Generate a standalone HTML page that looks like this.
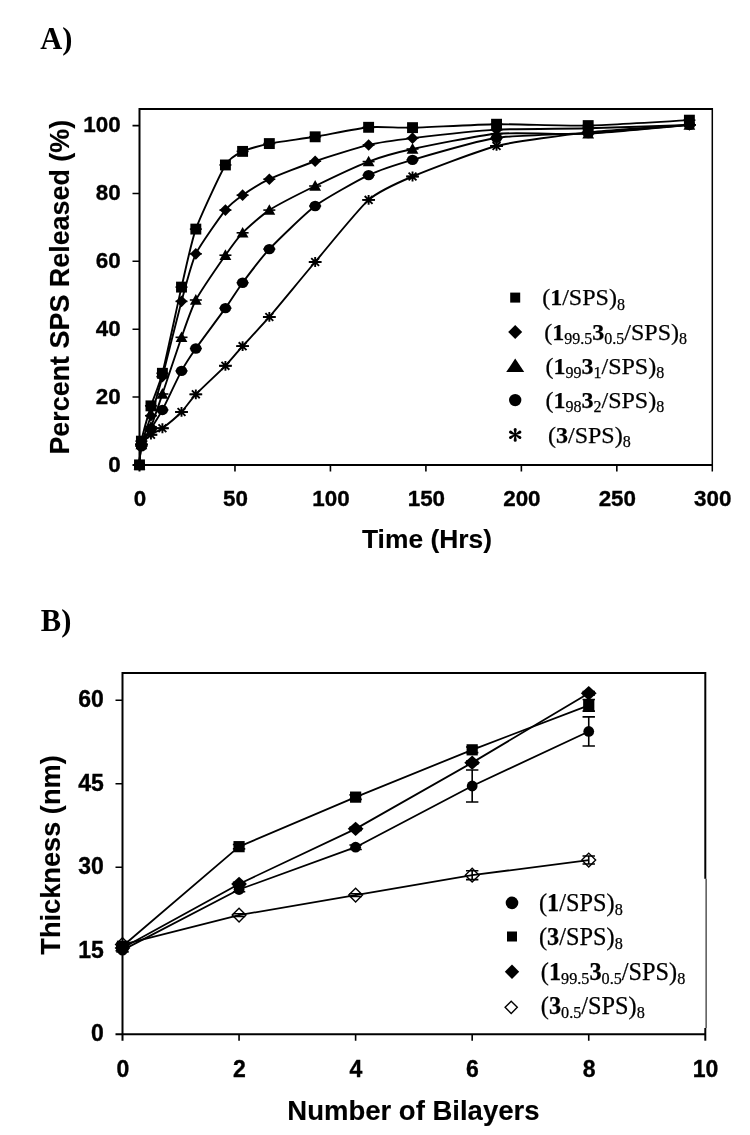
<!DOCTYPE html>
<html><head><meta charset="utf-8"><title>Figure</title>
<style>html,body{margin:0;padding:0;background:#fff}body{width:750px;height:1135px;overflow:hidden;font-family:"Liberation Sans",sans-serif}svg text{fill:#000}</style>
</head><body>
<svg width="750" height="1135" viewBox="0 0 750 1135" style="display:block;will-change:transform">
<rect width="750" height="1135" fill="#fff"/>
<text x="40.2" y="48.6" font-family="Liberation Serif, serif" font-weight="bold" font-size="30.5">A)</text>
<text x="40.8" y="630.5" font-family="Liberation Serif, serif" font-weight="bold" font-size="30.5">B)</text>
<path d="M139.5 471.4V109.0H712.3" fill="none" stroke="#000" stroke-width="2"/>
<path d="M712.3 108.0V471.4" fill="none" stroke="#000" stroke-width="1.5"/>
<path d="M132.5 464.9H712.3" fill="none" stroke="#000" stroke-width="2"/>
<path d="M132.5 397.04H139.5M132.5 329.18H139.5M132.5 261.32H139.5M132.5 193.46H139.5M132.5 125.60H139.5M234.97 464.9V471.4M330.43 464.9V471.4M425.90 464.9V471.4M521.37 464.9V471.4M616.83 464.9V471.4" fill="none" stroke="#000" stroke-width="1.6"/>
<text x="120.7" y="471.50" text-anchor="end" font-family="Liberation Sans, sans-serif" font-weight="bold" stroke="#000" stroke-width="0.35" font-size="22.4">0</text>
<text x="120.7" y="403.64" text-anchor="end" font-family="Liberation Sans, sans-serif" font-weight="bold" stroke="#000" stroke-width="0.35" font-size="22.4">20</text>
<text x="120.7" y="335.78" text-anchor="end" font-family="Liberation Sans, sans-serif" font-weight="bold" stroke="#000" stroke-width="0.35" font-size="22.4">40</text>
<text x="120.7" y="267.92" text-anchor="end" font-family="Liberation Sans, sans-serif" font-weight="bold" stroke="#000" stroke-width="0.35" font-size="22.4">60</text>
<text x="120.7" y="200.06" text-anchor="end" font-family="Liberation Sans, sans-serif" font-weight="bold" stroke="#000" stroke-width="0.35" font-size="22.4">80</text>
<text x="120.7" y="132.20" text-anchor="end" font-family="Liberation Sans, sans-serif" font-weight="bold" stroke="#000" stroke-width="0.35" font-size="22.4">100</text>
<text x="140.00" y="506.0" text-anchor="middle" font-family="Liberation Sans, sans-serif" font-weight="bold" stroke="#000" stroke-width="0.35" font-size="22.4">0</text>
<text x="235.47" y="506.0" text-anchor="middle" font-family="Liberation Sans, sans-serif" font-weight="bold" stroke="#000" stroke-width="0.35" font-size="22.4">50</text>
<text x="330.93" y="506.0" text-anchor="middle" font-family="Liberation Sans, sans-serif" font-weight="bold" stroke="#000" stroke-width="0.35" font-size="22.4">100</text>
<text x="426.40" y="506.0" text-anchor="middle" font-family="Liberation Sans, sans-serif" font-weight="bold" stroke="#000" stroke-width="0.35" font-size="22.4">150</text>
<text x="521.87" y="506.0" text-anchor="middle" font-family="Liberation Sans, sans-serif" font-weight="bold" stroke="#000" stroke-width="0.35" font-size="22.4">200</text>
<text x="617.33" y="506.0" text-anchor="middle" font-family="Liberation Sans, sans-serif" font-weight="bold" stroke="#000" stroke-width="0.35" font-size="22.4">250</text>
<text x="712.80" y="506.0" text-anchor="middle" font-family="Liberation Sans, sans-serif" font-weight="bold" stroke="#000" stroke-width="0.35" font-size="22.4">300</text>
<text transform="translate(69.0 454.6) rotate(-90)" font-family="Liberation Sans, sans-serif" font-weight="bold" stroke="#000" stroke-width="0.12" font-size="26.9">Percent SPS Released (%)</text>
<text x="427.0" y="547.8" text-anchor="middle" font-family="Liberation Sans, sans-serif" font-weight="bold" stroke="#000" stroke-width="0.12" font-size="26.4">Time (Hrs)</text>
<path d="M139.50 464.90C139.50 464.90 140.26 447.56 141.41 444.54C142.55 441.52 148.86 436.33 150.96 434.70C153.06 433.07 159.36 430.53 162.41 428.26C165.47 425.98 178.16 415.36 181.51 411.97C184.85 408.58 191.43 398.94 195.83 394.33C200.22 389.71 220.74 370.64 225.42 365.82C230.10 361.01 238.21 351.03 242.60 346.14C247.00 341.26 262.08 325.38 269.33 316.97C276.59 308.55 305.23 273.70 315.16 262.00C325.09 250.29 358.88 208.46 368.62 199.91C378.36 191.36 399.74 181.89 412.53 176.50C425.33 171.10 478.98 150.37 496.55 145.96C514.11 141.55 568.91 134.49 588.19 132.39C607.48 130.28 689.39 124.92 689.39 124.92" fill="none" stroke="#000" stroke-width="1.9" stroke-linejoin="round"/>
<path d="M133.50 464.90H145.50" stroke="#000" stroke-width="1.6" fill="none"/>
<path d="M139.50 460.00V469.80M133.10 464.90H145.90M135.58 460.98L143.42 468.82M135.58 468.82L143.42 460.98" stroke="#000" stroke-width="1.9" fill="none"/>
<path d="M135.41 444.54H147.41" stroke="#000" stroke-width="1.6" fill="none"/>
<path d="M141.41 439.64V449.44M135.01 444.54H147.81M137.49 440.62L145.33 448.46M137.49 448.46L145.33 440.62" stroke="#000" stroke-width="1.9" fill="none"/>
<path d="M144.96 434.70H156.96" stroke="#000" stroke-width="1.6" fill="none"/>
<path d="M150.96 429.80V439.60M144.56 434.70H157.36M147.04 430.78L154.88 438.62M147.04 438.62L154.88 430.78" stroke="#000" stroke-width="1.9" fill="none"/>
<path d="M156.41 428.26H168.41" stroke="#000" stroke-width="1.6" fill="none"/>
<path d="M162.41 423.36V433.16M156.01 428.26H168.81M158.49 424.34L166.33 432.18M158.49 432.18L166.33 424.34" stroke="#000" stroke-width="1.9" fill="none"/>
<path d="M175.51 411.97H187.51" stroke="#000" stroke-width="1.6" fill="none"/>
<path d="M181.51 407.07V416.87M175.11 411.97H187.91M177.59 408.05L185.43 415.89M177.59 415.89L185.43 408.05" stroke="#000" stroke-width="1.9" fill="none"/>
<path d="M189.83 394.33H201.83" stroke="#000" stroke-width="1.6" fill="none"/>
<path d="M195.83 389.43V399.23M189.43 394.33H202.23M191.91 390.41L199.75 398.25M191.91 398.25L199.75 390.41" stroke="#000" stroke-width="1.9" fill="none"/>
<path d="M219.42 365.82H231.42" stroke="#000" stroke-width="1.6" fill="none"/>
<path d="M225.42 360.92V370.72M219.02 365.82H231.82M221.50 361.90L229.34 369.74M221.50 369.74L229.34 361.90" stroke="#000" stroke-width="1.9" fill="none"/>
<path d="M236.60 346.14H248.60" stroke="#000" stroke-width="1.6" fill="none"/>
<path d="M242.60 341.25V351.04M236.20 346.14H249.00M238.68 342.22L246.52 350.06M238.68 350.06L246.52 342.22" stroke="#000" stroke-width="1.9" fill="none"/>
<path d="M263.33 316.97H275.33" stroke="#000" stroke-width="1.6" fill="none"/>
<path d="M269.33 312.07V321.87M262.93 316.97H275.73M265.41 313.05L273.25 320.89M265.41 320.89L273.25 313.05" stroke="#000" stroke-width="1.9" fill="none"/>
<path d="M309.16 262.00H321.16" stroke="#000" stroke-width="1.6" fill="none"/>
<path d="M315.16 257.10V266.90M308.76 262.00H321.56M311.24 258.08L319.08 265.92M311.24 265.92L319.08 258.08" stroke="#000" stroke-width="1.9" fill="none"/>
<path d="M362.62 199.91H374.62" stroke="#000" stroke-width="1.6" fill="none"/>
<path d="M368.62 195.01V204.81M362.22 199.91H375.02M364.70 195.99L372.54 203.83M364.70 203.83L372.54 195.99" stroke="#000" stroke-width="1.9" fill="none"/>
<path d="M406.53 176.50H418.53" stroke="#000" stroke-width="1.6" fill="none"/>
<path d="M412.53 171.59V181.40M406.13 176.50H418.93M408.61 172.58L416.45 180.41M408.61 180.41L416.45 172.58" stroke="#000" stroke-width="1.9" fill="none"/>
<path d="M490.55 145.96H502.55" stroke="#000" stroke-width="1.6" fill="none"/>
<path d="M496.55 141.06V150.86M490.15 145.96H502.95M492.63 142.04L500.47 149.88M492.63 149.88L500.47 142.04" stroke="#000" stroke-width="1.9" fill="none"/>
<path d="M582.19 132.39H594.19" stroke="#000" stroke-width="1.6" fill="none"/>
<path d="M588.19 127.49V137.29M581.79 132.39H594.59M584.27 128.47L592.11 136.31M584.27 136.31L592.11 128.47" stroke="#000" stroke-width="1.9" fill="none"/>
<path d="M683.39 124.92H695.39" stroke="#000" stroke-width="1.6" fill="none"/>
<path d="M689.39 120.02V129.82M682.99 124.92H695.79M685.47 121.00L693.31 128.84M685.47 128.84L693.31 121.00" stroke="#000" stroke-width="1.9" fill="none"/>
<path d="M139.50 464.90C139.50 464.90 140.26 449.84 141.41 446.24C142.55 442.64 148.86 432.56 150.96 428.93C153.06 425.30 159.36 415.74 162.41 409.93C165.47 404.13 178.16 377.06 181.51 370.91C184.85 364.77 191.43 354.80 195.83 348.52C200.22 342.24 220.74 314.73 225.42 308.14C230.10 301.56 238.21 288.60 242.60 282.70C247.00 276.79 262.08 256.77 269.33 249.11C276.59 241.44 305.23 213.41 315.16 206.01C325.09 198.62 358.88 179.75 368.62 175.14C378.36 170.52 399.74 163.60 412.53 159.87C425.33 156.14 478.98 140.50 496.55 137.81C514.11 135.13 568.91 134.35 588.19 133.06C607.48 131.78 689.39 124.92 689.39 124.92" fill="none" stroke="#000" stroke-width="1.9" stroke-linejoin="round"/>
<path d="M133.50 464.90H145.50" stroke="#000" stroke-width="1.6" fill="none"/>
<ellipse cx="139.50" cy="464.90" rx="5.7" ry="5.2" fill="#000"/>
<path d="M135.41 446.24H147.41" stroke="#000" stroke-width="1.6" fill="none"/>
<ellipse cx="141.41" cy="446.24" rx="5.7" ry="5.2" fill="#000"/>
<path d="M144.96 428.93H156.96" stroke="#000" stroke-width="1.6" fill="none"/>
<ellipse cx="150.96" cy="428.93" rx="5.7" ry="5.2" fill="#000"/>
<path d="M156.41 409.93H168.41" stroke="#000" stroke-width="1.6" fill="none"/>
<ellipse cx="162.41" cy="409.93" rx="5.7" ry="5.2" fill="#000"/>
<path d="M175.51 370.91H187.51" stroke="#000" stroke-width="1.6" fill="none"/>
<ellipse cx="181.51" cy="370.91" rx="5.7" ry="5.2" fill="#000"/>
<path d="M189.83 348.52H201.83" stroke="#000" stroke-width="1.6" fill="none"/>
<ellipse cx="195.83" cy="348.52" rx="5.7" ry="5.2" fill="#000"/>
<path d="M219.42 308.14H231.42" stroke="#000" stroke-width="1.6" fill="none"/>
<ellipse cx="225.42" cy="308.14" rx="5.7" ry="5.2" fill="#000"/>
<path d="M236.60 282.70H248.60" stroke="#000" stroke-width="1.6" fill="none"/>
<ellipse cx="242.60" cy="282.70" rx="5.7" ry="5.2" fill="#000"/>
<path d="M263.33 249.11H275.33" stroke="#000" stroke-width="1.6" fill="none"/>
<ellipse cx="269.33" cy="249.11" rx="5.7" ry="5.2" fill="#000"/>
<path d="M309.16 206.01H321.16" stroke="#000" stroke-width="1.6" fill="none"/>
<ellipse cx="315.16" cy="206.01" rx="5.7" ry="5.2" fill="#000"/>
<path d="M362.62 175.14H374.62" stroke="#000" stroke-width="1.6" fill="none"/>
<ellipse cx="368.62" cy="175.14" rx="5.7" ry="5.2" fill="#000"/>
<path d="M406.53 159.87H418.53" stroke="#000" stroke-width="1.6" fill="none"/>
<ellipse cx="412.53" cy="159.87" rx="5.7" ry="5.2" fill="#000"/>
<path d="M490.55 137.81H502.55" stroke="#000" stroke-width="1.6" fill="none"/>
<ellipse cx="496.55" cy="137.81" rx="5.7" ry="5.2" fill="#000"/>
<path d="M582.19 133.06H594.19" stroke="#000" stroke-width="1.6" fill="none"/>
<ellipse cx="588.19" cy="133.06" rx="5.7" ry="5.2" fill="#000"/>
<path d="M683.39 124.92H695.39" stroke="#000" stroke-width="1.6" fill="none"/>
<ellipse cx="689.39" cy="124.92" rx="5.7" ry="5.2" fill="#000"/>
<path d="M139.50 464.90C139.50 464.90 140.26 448.34 141.41 444.54C142.55 440.74 148.86 431.95 150.96 426.90C153.06 421.84 159.36 402.94 162.41 393.99C165.47 385.03 178.16 346.72 181.51 337.32C184.85 327.92 191.43 308.21 195.83 300.00C200.22 291.79 220.74 261.93 225.42 255.21C230.10 248.49 238.21 237.33 242.60 232.82C247.00 228.31 262.08 214.77 269.33 210.09C276.59 205.40 305.23 190.85 315.16 186.00C325.09 181.14 358.88 165.26 368.62 161.57C378.36 157.87 399.74 151.79 412.53 149.01C425.33 146.23 478.98 135.27 496.55 133.74C514.11 132.22 568.91 134.63 588.19 133.74C607.48 132.86 689.39 124.92 689.39 124.92" fill="none" stroke="#000" stroke-width="1.9" stroke-linejoin="round"/>
<path d="M133.50 464.90H145.50" stroke="#000" stroke-width="1.6" fill="none"/>
<path d="M139.50 459.00L145.40 469.62L133.60 469.62Z" fill="#000"/>
<path d="M135.41 444.54H147.41" stroke="#000" stroke-width="1.6" fill="none"/>
<path d="M141.41 438.64L147.31 449.26L135.51 449.26Z" fill="#000"/>
<path d="M144.96 426.90H156.96" stroke="#000" stroke-width="1.6" fill="none"/>
<path d="M150.96 421.00L156.86 431.62L145.06 431.62Z" fill="#000"/>
<path d="M156.41 393.99H168.41" stroke="#000" stroke-width="1.6" fill="none"/>
<path d="M162.41 388.09L168.31 398.71L156.51 398.71Z" fill="#000"/>
<path d="M175.51 337.32H187.51" stroke="#000" stroke-width="1.6" fill="none"/>
<path d="M181.51 331.42L187.41 342.04L175.61 342.04Z" fill="#000"/>
<path d="M189.83 300.00H201.83" stroke="#000" stroke-width="1.6" fill="none"/>
<path d="M195.83 294.10L201.73 304.72L189.93 304.72Z" fill="#000"/>
<path d="M219.42 255.21H231.42" stroke="#000" stroke-width="1.6" fill="none"/>
<path d="M225.42 249.31L231.32 259.93L219.52 259.93Z" fill="#000"/>
<path d="M236.60 232.82H248.60" stroke="#000" stroke-width="1.6" fill="none"/>
<path d="M242.60 226.92L248.50 237.54L236.70 237.54Z" fill="#000"/>
<path d="M263.33 210.09H275.33" stroke="#000" stroke-width="1.6" fill="none"/>
<path d="M269.33 204.19L275.23 214.81L263.43 214.81Z" fill="#000"/>
<path d="M309.16 186.00H321.16" stroke="#000" stroke-width="1.6" fill="none"/>
<path d="M315.16 180.10L321.06 190.72L309.26 190.72Z" fill="#000"/>
<path d="M362.62 161.57H374.62" stroke="#000" stroke-width="1.6" fill="none"/>
<path d="M368.62 155.67L374.52 166.29L362.72 166.29Z" fill="#000"/>
<path d="M406.53 149.01H418.53" stroke="#000" stroke-width="1.6" fill="none"/>
<path d="M412.53 143.11L418.43 153.73L406.63 153.73Z" fill="#000"/>
<path d="M490.55 133.74H502.55" stroke="#000" stroke-width="1.6" fill="none"/>
<path d="M496.55 127.84L502.45 138.46L490.65 138.46Z" fill="#000"/>
<path d="M582.19 133.74H594.19" stroke="#000" stroke-width="1.6" fill="none"/>
<path d="M588.19 127.84L594.09 138.46L582.29 138.46Z" fill="#000"/>
<path d="M683.39 124.92H695.39" stroke="#000" stroke-width="1.6" fill="none"/>
<path d="M689.39 119.02L695.29 129.64L683.49 129.64Z" fill="#000"/>
<path d="M139.50 464.90C139.50 464.90 140.26 449.46 141.41 444.54C142.55 439.62 148.86 422.49 150.96 415.70C153.06 408.92 159.36 388.12 162.41 376.68C165.47 365.25 178.16 313.64 181.51 301.36C184.85 289.07 191.43 262.98 195.83 253.86C200.22 244.73 220.74 215.96 225.42 210.09C230.10 204.22 238.21 198.24 242.60 195.16C247.00 192.07 262.08 182.60 269.33 179.21C276.59 175.82 305.23 164.65 315.16 161.23C325.09 157.80 358.88 147.25 368.62 144.94C378.36 142.63 399.74 139.68 412.53 138.15C425.33 136.63 478.98 130.66 496.55 129.67C514.11 128.69 568.91 128.79 588.19 128.31C607.48 127.84 689.39 124.92 689.39 124.92" fill="none" stroke="#000" stroke-width="1.9" stroke-linejoin="round"/>
<path d="M133.50 464.90H145.50" stroke="#000" stroke-width="1.6" fill="none"/>
<path d="M139.50 459.10L145.30 464.90L139.50 470.70L133.70 464.90Z" fill="#000"/>
<path d="M135.41 444.54H147.41" stroke="#000" stroke-width="1.6" fill="none"/>
<path d="M141.41 438.74L147.21 444.54L141.41 450.34L135.61 444.54Z" fill="#000"/>
<path d="M144.96 415.70H156.96" stroke="#000" stroke-width="1.6" fill="none"/>
<path d="M150.96 409.90L156.76 415.70L150.96 421.50L145.16 415.70Z" fill="#000"/>
<path d="M156.41 376.68H168.41" stroke="#000" stroke-width="1.6" fill="none"/>
<path d="M162.41 370.88L168.21 376.68L162.41 382.48L156.61 376.68Z" fill="#000"/>
<path d="M175.51 301.36H187.51" stroke="#000" stroke-width="1.6" fill="none"/>
<path d="M181.51 295.56L187.31 301.36L181.51 307.16L175.71 301.36Z" fill="#000"/>
<path d="M189.83 253.86H201.83" stroke="#000" stroke-width="1.6" fill="none"/>
<path d="M195.83 248.06L201.63 253.86L195.83 259.66L190.03 253.86Z" fill="#000"/>
<path d="M219.42 210.09H231.42" stroke="#000" stroke-width="1.6" fill="none"/>
<path d="M225.42 204.29L231.22 210.09L225.42 215.89L219.62 210.09Z" fill="#000"/>
<path d="M236.60 195.16H248.60" stroke="#000" stroke-width="1.6" fill="none"/>
<path d="M242.60 189.36L248.40 195.16L242.60 200.96L236.80 195.16Z" fill="#000"/>
<path d="M263.33 179.21H275.33" stroke="#000" stroke-width="1.6" fill="none"/>
<path d="M269.33 173.41L275.13 179.21L269.33 185.01L263.53 179.21Z" fill="#000"/>
<path d="M309.16 161.23H321.16" stroke="#000" stroke-width="1.6" fill="none"/>
<path d="M315.16 155.43L320.96 161.23L315.16 167.03L309.36 161.23Z" fill="#000"/>
<path d="M362.62 144.94H374.62" stroke="#000" stroke-width="1.6" fill="none"/>
<path d="M368.62 139.14L374.42 144.94L368.62 150.74L362.82 144.94Z" fill="#000"/>
<path d="M406.53 138.15H418.53" stroke="#000" stroke-width="1.6" fill="none"/>
<path d="M412.53 132.35L418.33 138.15L412.53 143.95L406.73 138.15Z" fill="#000"/>
<path d="M490.55 129.67H502.55" stroke="#000" stroke-width="1.6" fill="none"/>
<path d="M496.55 123.87L502.35 129.67L496.55 135.47L490.75 129.67Z" fill="#000"/>
<path d="M582.19 128.31H594.19" stroke="#000" stroke-width="1.6" fill="none"/>
<path d="M588.19 122.51L593.99 128.31L588.19 134.11L582.39 128.31Z" fill="#000"/>
<path d="M683.39 124.92H695.39" stroke="#000" stroke-width="1.6" fill="none"/>
<path d="M689.39 119.12L695.19 124.92L689.39 130.72L683.59 124.92Z" fill="#000"/>
<path d="M139.50 464.90C139.50 464.90 140.26 447.05 141.41 441.15C142.55 435.25 148.86 412.65 150.96 405.86C153.06 399.08 159.54 384.44 162.41 373.29C165.47 361.41 178.16 301.53 181.51 287.11C184.85 272.69 191.43 241.30 195.83 229.09C200.22 216.87 220.74 172.73 225.42 164.96C229.18 158.71 238.21 153.52 242.60 151.39C247.00 149.25 262.08 145.04 269.33 143.58C276.59 142.12 305.23 138.43 315.16 136.80C325.09 135.17 358.88 128.21 368.62 127.30C378.36 126.38 399.74 127.94 412.53 127.64C425.33 127.33 478.98 124.45 496.55 124.24C514.11 124.04 568.91 126.01 588.19 125.60C607.48 125.19 689.39 120.17 689.39 120.17" fill="none" stroke="#000" stroke-width="1.9" stroke-linejoin="round"/>
<path d="M133.50 464.90H145.50" stroke="#000" stroke-width="1.6" fill="none"/>
<rect x="134.05" y="459.45" width="10.90" height="10.90" fill="#000"/>
<path d="M135.41 441.15H147.41" stroke="#000" stroke-width="1.6" fill="none"/>
<rect x="135.96" y="435.70" width="10.90" height="10.90" fill="#000"/>
<path d="M144.96 405.86H156.96" stroke="#000" stroke-width="1.6" fill="none"/>
<rect x="145.51" y="400.41" width="10.90" height="10.90" fill="#000"/>
<path d="M156.41 373.29H168.41" stroke="#000" stroke-width="1.6" fill="none"/>
<rect x="156.96" y="367.84" width="10.90" height="10.90" fill="#000"/>
<path d="M175.51 287.11H187.51" stroke="#000" stroke-width="1.6" fill="none"/>
<rect x="176.06" y="281.66" width="10.90" height="10.90" fill="#000"/>
<path d="M189.83 229.09H201.83" stroke="#000" stroke-width="1.6" fill="none"/>
<rect x="190.38" y="223.64" width="10.90" height="10.90" fill="#000"/>
<path d="M219.42 164.96H231.42" stroke="#000" stroke-width="1.6" fill="none"/>
<rect x="219.97" y="159.51" width="10.90" height="10.90" fill="#000"/>
<path d="M236.60 151.39H248.60" stroke="#000" stroke-width="1.6" fill="none"/>
<rect x="237.15" y="145.94" width="10.90" height="10.90" fill="#000"/>
<path d="M263.33 143.58H275.33" stroke="#000" stroke-width="1.6" fill="none"/>
<rect x="263.88" y="138.13" width="10.90" height="10.90" fill="#000"/>
<path d="M309.16 136.80H321.16" stroke="#000" stroke-width="1.6" fill="none"/>
<rect x="309.71" y="131.35" width="10.90" height="10.90" fill="#000"/>
<path d="M362.62 127.30H374.62" stroke="#000" stroke-width="1.6" fill="none"/>
<rect x="363.17" y="121.85" width="10.90" height="10.90" fill="#000"/>
<path d="M406.53 127.64H418.53" stroke="#000" stroke-width="1.6" fill="none"/>
<rect x="407.08" y="122.19" width="10.90" height="10.90" fill="#000"/>
<path d="M490.55 124.24H502.55" stroke="#000" stroke-width="1.6" fill="none"/>
<rect x="491.10" y="118.79" width="10.90" height="10.90" fill="#000"/>
<path d="M582.19 125.60H594.19" stroke="#000" stroke-width="1.6" fill="none"/>
<rect x="582.74" y="120.15" width="10.90" height="10.90" fill="#000"/>
<path d="M683.39 120.17H695.39" stroke="#000" stroke-width="1.6" fill="none"/>
<rect x="683.94" y="114.72" width="10.90" height="10.90" fill="#000"/>
<rect x="510.20" y="292.60" width="10.00" height="10.00" fill="#000"/>
<text x="542.2" y="305.3" font-family="Liberation Serif, serif" stroke="#000" stroke-width="0.25" font-size="24"><tspan>(</tspan><tspan font-weight="bold">1</tspan><tspan>/SPS)</tspan><tspan font-size="16" dy="4.2">8</tspan></text>
<path d="M515.20 324.90L522.20 331.90L515.20 338.90L508.20 331.90Z" fill="#000"/>
<text x="544.3" y="339.6" font-family="Liberation Serif, serif" stroke="#000" stroke-width="0.25" font-size="24"><tspan>(</tspan><tspan font-weight="bold">1</tspan><tspan font-size="16" dy="4.2">99.5</tspan><tspan font-weight="bold" dy="-4.2">3</tspan><tspan font-size="16" dy="4.2">0.5</tspan><tspan dy="-4.2">/SPS)</tspan><tspan font-size="16" dy="4.2">8</tspan></text>
<path d="M515.20 358.60L524.20 372.10L506.20 372.10Z" fill="#000"/>
<text x="545.5" y="373.5" font-family="Liberation Serif, serif" stroke="#000" stroke-width="0.25" font-size="24"><tspan>(</tspan><tspan font-weight="bold">1</tspan><tspan font-size="16" dy="4.2">99</tspan><tspan font-weight="bold" dy="-4.2">3</tspan><tspan font-size="16" dy="4.2">1</tspan><tspan dy="-4.2">/SPS)</tspan><tspan font-size="16" dy="4.2">8</tspan></text>
<ellipse cx="515.20" cy="400.10" rx="6.2" ry="6.2" fill="#000"/>
<text x="545.5" y="407.8" font-family="Liberation Serif, serif" stroke="#000" stroke-width="0.25" font-size="24"><tspan>(</tspan><tspan font-weight="bold">1</tspan><tspan font-size="16" dy="4.2">98</tspan><tspan font-weight="bold" dy="-4.2">3</tspan><tspan font-size="16" dy="4.2">2</tspan><tspan dy="-4.2">/SPS)</tspan><tspan font-size="16" dy="4.2">8</tspan></text>
<path d="M515.75 434.80L516.75 429.45A1.55 1.55 0 0 0 513.65 429.45L514.65 434.80ZM515.48 435.28L520.61 433.47A1.55 1.55 0 0 0 519.06 430.78L514.93 434.32ZM515.48 434.32L511.34 430.78A1.55 1.55 0 0 0 509.79 433.47L514.93 435.28ZM514.65 434.80L513.65 440.15A1.55 1.55 0 0 0 516.75 440.15L515.75 434.80ZM514.93 434.32L509.79 436.13A1.55 1.55 0 0 0 511.34 438.82L515.48 435.28ZM514.93 435.28L519.06 438.82A1.55 1.55 0 0 0 520.61 436.13L515.48 434.32Z" fill="#000"/>
<text x="548" y="442.5" font-family="Liberation Serif, serif" stroke="#000" stroke-width="0.25" font-size="24"><tspan>(</tspan><tspan font-weight="bold">3</tspan><tspan>/SPS)</tspan><tspan font-size="16" dy="4.2">8</tspan></text>
<path d="M122.5 1040.7V673.0H705.3" fill="none" stroke="#000" stroke-width="2"/>
<path d="M705.3 672.0V878.8" fill="none" stroke="#000" stroke-width="2"/>
<path d="M706.0999999999999 878.8V1028" fill="none" stroke="#000" stroke-width="1"/>
<path d="M705.3 1028V1040.7" fill="none" stroke="#000" stroke-width="2"/>
<path d="M115.5 1034.2H705.3" fill="none" stroke="#000" stroke-width="2"/>
<path d="M115.5 950.73H122.5M115.5 867.25H122.5M115.5 783.77H122.5M115.5 700.30H122.5M239.06 1034.2V1040.7M355.62 1034.2V1040.7M472.18 1034.2V1040.7M588.74 1034.2V1040.7" fill="none" stroke="#000" stroke-width="1.6"/>
<text x="103.8" y="1041.30" text-anchor="end" font-family="Liberation Sans, sans-serif" font-weight="bold" stroke="#000" stroke-width="0.35" font-size="23">0</text>
<text x="103.8" y="957.83" text-anchor="end" font-family="Liberation Sans, sans-serif" font-weight="bold" stroke="#000" stroke-width="0.35" font-size="23">15</text>
<text x="103.8" y="874.35" text-anchor="end" font-family="Liberation Sans, sans-serif" font-weight="bold" stroke="#000" stroke-width="0.35" font-size="23">30</text>
<text x="103.8" y="790.88" text-anchor="end" font-family="Liberation Sans, sans-serif" font-weight="bold" stroke="#000" stroke-width="0.35" font-size="23">45</text>
<text x="103.8" y="707.40" text-anchor="end" font-family="Liberation Sans, sans-serif" font-weight="bold" stroke="#000" stroke-width="0.35" font-size="23">60</text>
<text x="122.80" y="1076.6" text-anchor="middle" font-family="Liberation Sans, sans-serif" font-weight="bold" stroke="#000" stroke-width="0.35" font-size="23">0</text>
<text x="239.36" y="1076.6" text-anchor="middle" font-family="Liberation Sans, sans-serif" font-weight="bold" stroke="#000" stroke-width="0.35" font-size="23">2</text>
<text x="355.92" y="1076.6" text-anchor="middle" font-family="Liberation Sans, sans-serif" font-weight="bold" stroke="#000" stroke-width="0.35" font-size="23">4</text>
<text x="472.48" y="1076.6" text-anchor="middle" font-family="Liberation Sans, sans-serif" font-weight="bold" stroke="#000" stroke-width="0.35" font-size="23">6</text>
<text x="589.04" y="1076.6" text-anchor="middle" font-family="Liberation Sans, sans-serif" font-weight="bold" stroke="#000" stroke-width="0.35" font-size="23">8</text>
<text x="705.60" y="1076.6" text-anchor="middle" font-family="Liberation Sans, sans-serif" font-weight="bold" stroke="#000" stroke-width="0.35" font-size="23">10</text>
<text transform="translate(59.9 954.7) rotate(-90)" font-family="Liberation Sans, sans-serif" font-weight="bold" stroke="#000" stroke-width="0.12" font-size="27.2">Thickness (nm)</text>
<text x="413.4" y="1120" text-anchor="middle" font-family="Liberation Sans, sans-serif" font-weight="bold" stroke="#000" stroke-width="0.12" font-size="27.5">Number of Bilayers</text>
<polyline points="122.50,944.60 239.06,915.11 355.62,895.08 472.18,875.21 588.74,860.02" fill="none" stroke="#000" stroke-width="1.8" stroke-linejoin="round"/>
<path d="M122.50 942.93V946.27M116.30 942.93H128.70M116.30 946.27H128.70" stroke="#000" stroke-width="1.6" fill="none"/>
<path d="M122.50 937.70L129.40 944.60L122.50 951.50L115.60 944.60Z" fill="none" stroke="#000" stroke-width="1.4"/>
<path d="M239.06 913.72V916.50M232.86 913.72H245.26M232.86 916.50H245.26" stroke="#000" stroke-width="1.6" fill="none"/>
<path d="M239.06 908.21L245.96 915.11L239.06 922.01L232.16 915.11Z" fill="none" stroke="#000" stroke-width="1.4"/>
<path d="M355.62 893.68V896.47M349.42 893.68H361.82M349.42 896.47H361.82" stroke="#000" stroke-width="1.6" fill="none"/>
<path d="M355.62 888.18L362.52 895.08L355.62 901.98L348.72 895.08Z" fill="none" stroke="#000" stroke-width="1.4"/>
<path d="M472.18 870.76V879.66M465.98 870.76H478.38M465.98 879.66H478.38" stroke="#000" stroke-width="1.6" fill="none"/>
<path d="M472.18 868.31L479.08 875.21L472.18 882.11L465.28 875.21Z" fill="none" stroke="#000" stroke-width="1.4"/>
<path d="M588.74 856.01V864.02M582.54 856.01H594.94M582.54 864.02H594.94" stroke="#000" stroke-width="1.6" fill="none"/>
<path d="M588.74 853.12L595.64 860.02L588.74 866.92L581.84 860.02Z" fill="none" stroke="#000" stroke-width="1.4"/>
<polyline points="122.50,950.17 239.06,889.51 355.62,847.22 472.18,786.00 588.74,731.46" fill="none" stroke="#000" stroke-width="1.8" stroke-linejoin="round"/>
<path d="M122.50 948.50V951.84M116.30 948.50H128.70M116.30 951.84H128.70" stroke="#000" stroke-width="1.6" fill="none"/>
<ellipse cx="122.50" cy="950.17" rx="5.4" ry="5.4" fill="#000"/>
<path d="M239.06 887.28V891.74M232.86 887.28H245.26M232.86 891.74H245.26" stroke="#000" stroke-width="1.6" fill="none"/>
<ellipse cx="239.06" cy="889.51" rx="5.4" ry="5.4" fill="#000"/>
<path d="M355.62 844.99V849.44M349.42 844.99H361.82M349.42 849.44H361.82" stroke="#000" stroke-width="1.6" fill="none"/>
<ellipse cx="355.62" cy="847.22" rx="5.4" ry="5.4" fill="#000"/>
<path d="M472.18 770.03V801.97M465.98 770.03H478.38M465.98 801.97H478.38" stroke="#000" stroke-width="1.6" fill="none"/>
<ellipse cx="472.18" cy="786.00" rx="5.4" ry="5.4" fill="#000"/>
<path d="M588.74 716.88V746.04M582.54 716.88H594.94M582.54 746.04H594.94" stroke="#000" stroke-width="1.6" fill="none"/>
<ellipse cx="588.74" cy="731.46" rx="5.4" ry="5.4" fill="#000"/>
<polyline points="122.50,946.27 239.06,846.66 355.62,797.13 472.18,749.83 588.74,705.31" fill="none" stroke="#000" stroke-width="1.8" stroke-linejoin="round"/>
<path d="M122.50 944.60V947.94M116.30 944.60H128.70M116.30 947.94H128.70" stroke="#000" stroke-width="1.6" fill="none"/>
<rect x="116.90" y="940.67" width="11.20" height="11.20" fill="#000"/>
<path d="M239.06 844.43V848.89M232.86 844.43H245.26M232.86 848.89H245.26" stroke="#000" stroke-width="1.6" fill="none"/>
<rect x="233.46" y="841.06" width="11.20" height="11.20" fill="#000"/>
<path d="M355.62 794.90V799.36M349.42 794.90H361.82M349.42 799.36H361.82" stroke="#000" stroke-width="1.6" fill="none"/>
<rect x="350.02" y="791.53" width="11.20" height="11.20" fill="#000"/>
<path d="M472.18 747.05V752.61M465.98 747.05H478.38M465.98 752.61H478.38" stroke="#000" stroke-width="1.6" fill="none"/>
<rect x="466.58" y="744.23" width="11.20" height="11.20" fill="#000"/>
<path d="M588.74 699.47V711.15M582.54 699.47H594.94M582.54 711.15H594.94" stroke="#000" stroke-width="1.6" fill="none"/>
<rect x="583.14" y="699.71" width="11.20" height="11.20" fill="#000"/>
<polyline points="122.50,947.94 239.06,883.94 355.62,828.85 472.18,762.63 588.74,693.29" fill="none" stroke="#000" stroke-width="1.8" stroke-linejoin="round"/>
<path d="M122.50 946.27V949.61M116.30 946.27H128.70M116.30 949.61H128.70" stroke="#000" stroke-width="1.6" fill="none"/>
<path d="M122.50 940.74L130.40 947.94L122.50 955.14L114.60 947.94Z" fill="#000"/>
<path d="M239.06 882.28V885.61M232.86 882.28H245.26M232.86 885.61H245.26" stroke="#000" stroke-width="1.6" fill="none"/>
<path d="M239.06 876.74L246.96 883.94L239.06 891.14L231.16 883.94Z" fill="#000"/>
<path d="M355.62 827.18V830.52M349.42 827.18H361.82M349.42 830.52H361.82" stroke="#000" stroke-width="1.6" fill="none"/>
<path d="M355.62 821.65L363.52 828.85L355.62 836.05L347.72 828.85Z" fill="#000"/>
<path d="M472.18 760.96V764.30M465.98 760.96H478.38M465.98 764.30H478.38" stroke="#000" stroke-width="1.6" fill="none"/>
<path d="M472.18 755.43L480.08 762.63L472.18 769.83L464.28 762.63Z" fill="#000"/>
<path d="M588.74 691.62V694.96M582.54 691.62H594.94M582.54 694.96H594.94" stroke="#000" stroke-width="1.6" fill="none"/>
<path d="M588.74 686.09L596.64 693.29L588.74 700.49L580.84 693.29Z" fill="#000"/>
<ellipse cx="512.00" cy="902.90" rx="6.3" ry="6.3" fill="#000"/>
<text x="539.0" y="910.9" font-family="Liberation Serif, serif" stroke="#000" stroke-width="0.25" font-size="24.3"><tspan>(</tspan><tspan font-weight="bold">1</tspan><tspan>/SPS)</tspan><tspan font-size="16.2" dy="4.2">8</tspan></text>
<rect x="507.00" y="931.50" width="10.00" height="10.00" fill="#000"/>
<text x="539.0" y="945.0" font-family="Liberation Serif, serif" stroke="#000" stroke-width="0.25" font-size="24.3"><tspan>(</tspan><tspan font-weight="bold">3</tspan><tspan>/SPS)</tspan><tspan font-size="16.2" dy="4.2">8</tspan></text>
<path d="M512.00 964.60L519.20 971.80L512.00 979.00L504.80 971.80Z" fill="#000"/>
<text x="540.8" y="980.1" font-family="Liberation Serif, serif" stroke="#000" stroke-width="0.25" font-size="24.3"><tspan>(</tspan><tspan font-weight="bold">1</tspan><tspan font-size="16.2" dy="4.2">99.5</tspan><tspan font-weight="bold" dy="-4.2">3</tspan><tspan font-size="16.2" dy="4.2">0.5</tspan><tspan dy="-4.2">/SPS)</tspan><tspan font-size="16.2" dy="4.2">8</tspan></text>
<path d="M511.20 1001.20L517.30 1007.30L511.20 1013.40L505.10 1007.30Z" fill="#fff" stroke="#000" stroke-width="1.4"/>
<text x="540.8" y="1014.1" font-family="Liberation Serif, serif" stroke="#000" stroke-width="0.25" font-size="24.3"><tspan>(</tspan><tspan font-weight="bold">3</tspan><tspan font-size="16.2" dy="4.2">0.5</tspan><tspan dy="-4.2">/SPS)</tspan><tspan font-size="16.2" dy="4.2">8</tspan></text>
</svg>
</body></html>
